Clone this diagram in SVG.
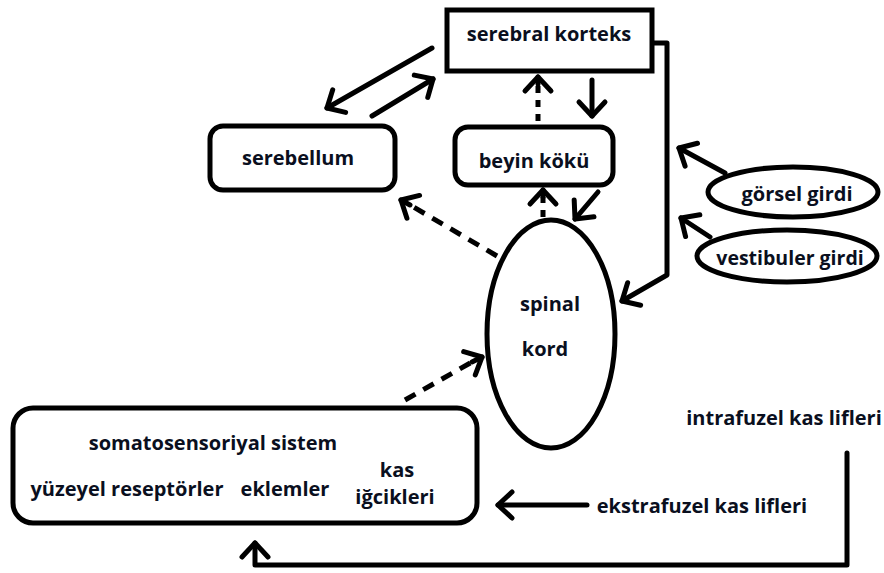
<svg xmlns="http://www.w3.org/2000/svg" width="884" height="573" viewBox="0 0 884 573">
<defs>
<marker id="ah" markerUnits="userSpaceOnUse" orient="auto" markerWidth="30" markerHeight="30" refX="0" refY="0" viewBox="-20 -15 25 30" overflow="visible">
<path d="M-14,-13 L0,0 L-14,13" fill="none" stroke="#000" stroke-width="5" stroke-linecap="round" stroke-linejoin="round"/>
</marker>
<style>
.box{fill:#fff;stroke:#000;stroke-width:5}
.t{font-family:"Open Sans","Liberation Sans",sans-serif;font-weight:bold;font-size:20px;fill:#0a0f1e;text-anchor:middle;dominant-baseline:central}
.c{fill:none;stroke:#000;stroke-width:5;stroke-linecap:round;stroke-linejoin:round}
.a{marker-end:url(#ah)}
.d{stroke-dasharray:12 9;stroke-linecap:butt}
.dd{stroke-dasharray:7 7;stroke-linecap:butt}
</style>
</defs>
<rect width="884" height="573" fill="#fff"/>
<g id="connectors">
<polyline class="c a" points="652,43 667,43 667,275 622,301"/>
<line class="c a" x1="432" y1="48" x2="327" y2="108"/>
<line class="c a" x1="372" y1="116" x2="433" y2="79"/>
<line class="c dd" x1="538" y1="121" x2="538" y2="84"/>
<line class="c a" x1="538" y1="84" x2="538" y2="77"/>
<line class="c a" x1="592" y1="80" x2="592" y2="116"/>
<line class="c dd" x1="543" y1="217" x2="543" y2="197"/>
<line class="c a" x1="543" y1="197" x2="543" y2="190"/>
<line class="c a" x1="598" y1="192" x2="575" y2="219"/>
<line class="c d" x1="497" y1="256" x2="410" y2="205"/>
<line class="c a" x1="410" y1="205" x2="401" y2="200"/>
<line class="c d" x1="405" y1="400" x2="472" y2="362"/>
<line class="c a" x1="472" y1="362" x2="482" y2="357"/>
<line class="c a" x1="725" y1="173" x2="679" y2="148"/>
<line class="c a" x1="710" y1="237" x2="681" y2="218"/>
<line class="c a" x1="587" y1="505" x2="498" y2="505"/>
<polyline class="c a" points="847,453 847,565 255,565 255,543"/>
</g>
<g id="serebral-korteks">
<rect class="box" x="447" y="10" width="205" height="61"/>
<text class="t" x="549" y="33">serebral korteks</text>
</g>
<g id="serebellum">
<rect class="box" x="210" y="126" width="185" height="64" rx="13"/>
<text class="t" x="298" y="157">serebellum</text>
</g>
<g id="beyin-koku">
<rect class="box" x="455" y="127" width="158" height="58" rx="13"/>
<text class="t" x="534" y="160">beyin kökü</text>
</g>
<g id="spinal-kord">
<ellipse class="box" cx="551" cy="334" rx="64" ry="114"/>
<text class="t" x="550" y="303">spinal</text>
<text class="t" x="545" y="348">kord</text>
</g>
<g id="gorsel-girdi">
<ellipse class="box" cx="793" cy="192" rx="85" ry="25"/>
<text class="t" x="797" y="193">görsel girdi</text>
</g>
<g id="vestibuler-girdi">
<ellipse class="box" cx="787" cy="256" rx="90" ry="26"/>
<text class="t" x="790" y="257" style="font-size:19.5px">vestibuler girdi</text>
</g>
<g id="somatosensoriyal-sistem">
<rect class="box" x="13" y="408" width="464" height="115" rx="20"/>
<text class="t" x="213" y="442">somatosensoriyal sistem</text>
<text class="t" x="127" y="488">yüzeyel reseptörler</text>
<text class="t" x="285" y="488">eklemler</text>
<text class="t" x="397" y="469">kas</text>
<text class="t" x="395" y="496">iğcikleri</text>
</g>
<g id="intrafuzel">
<text class="t" x="784" y="417">intrafuzel kas lifleri</text>
</g>
<g id="ekstrafuzel">
<text class="t" x="702" y="505">ekstrafuzel kas lifleri</text>
</g>
</svg>
